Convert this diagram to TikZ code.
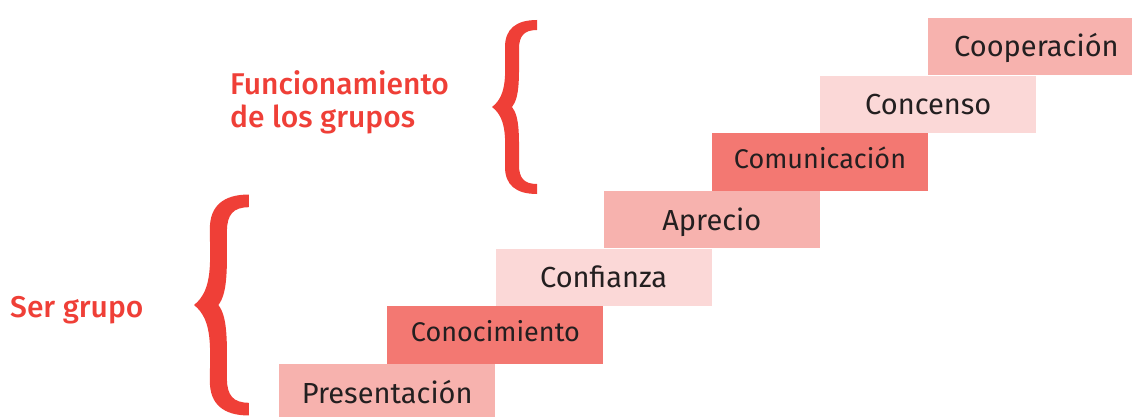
\documentclass[tikz,border=0pt]{standalone}
\usepackage{fontspec}
\setmainfont{Fira Sans}
\newfontfamily\etiqueta{Fira Sans Medium}
\usetikzlibrary{positioning}
\definecolor{rosaMedio}{HTML}{F7B2AE}
\definecolor{rosaFuerte}{HTML}{F37872}
\definecolor{rosaClaro}{HTML}{FBD8D7}
\definecolor{rojo}{HTML}{EF3F37}
\definecolor{texto}{HTML}{231F20}
\tikzset{
  paso/.style={minimum width=216pt, minimum height=57.33pt, inner sep=0pt,
    text=texto, font=\fontsize{29}{34}\selectfont, text height=20.7pt, text depth=0pt},
  medio/.style={paso, fill=rosaMedio},
  fuerte/.style={paso, fill=rosaFuerte, font=\fontsize{27}{32}\selectfont, text height=13pt},
  claro/.style={paso, fill=rosaClaro},
  grupo/.style={text=rojo, font=\etiqueta\fontsize{30}{33}\selectfont, align=left, inner sep=0pt},
  llave/.pic={
    \fill[rojo] (45,-87) .. controls (24,-87) and (13,-78) .. (13,-60)
      .. controls (13,-35) and (16,-12) .. (0,0)
      .. controls (16,12) and (13,35) .. (13,60)
      .. controls (13,78) and (24,87) .. (45,87) -- (45,77)
      .. controls (32,77) and (27,71) .. (27,58)
      .. controls (27,30) and (28,10) .. (20,0)
      .. controls (28,-10) and (27,-30) .. (27,-58)
      .. controls (27,-71) and (32,-77) .. (45,-77) -- cycle;
  }
}
\begin{document}
\begin{tikzpicture}[x=1pt, y=-1pt]
\useasboundingbox (0,0) rectangle (1132,417);
\clip (0,0) rectangle (1132,417);
% escalera
\node[medio, anchor=north west] (presentacion) at (279,364) {Presentación};
\node[fuerte, anchor=south west] (conocimiento) at (presentacion.north) {Conocimiento};
\node[claro, anchor=south west] (confianza) at (conocimiento.north) {Confianza};
\node[medio, anchor=south west] (aprecio) at (confianza.north) {Aprecio};
\node[fuerte, anchor=south west] (comunicacion) at (aprecio.north) {Comunicación};
\node[claro, anchor=south west] (concenso) at (comunicacion.north) {Concenso};
\node[medio, anchor=south west] (cooperacion) at (concenso.north) {Cooperación};
% llaves y etiquetas
\pic at (492,107) {llave};
\pic[xscale=1.22, yscale=1.27] at (194,305) {llave};
\node[grupo, anchor=base west] (funcionamiento) at (230,128) {Funcionamiento\\de los grupos};
\node[grupo, anchor=base west] (sergrupo) at (10,317) {Ser grupo};
\end{tikzpicture}
\end{document}
